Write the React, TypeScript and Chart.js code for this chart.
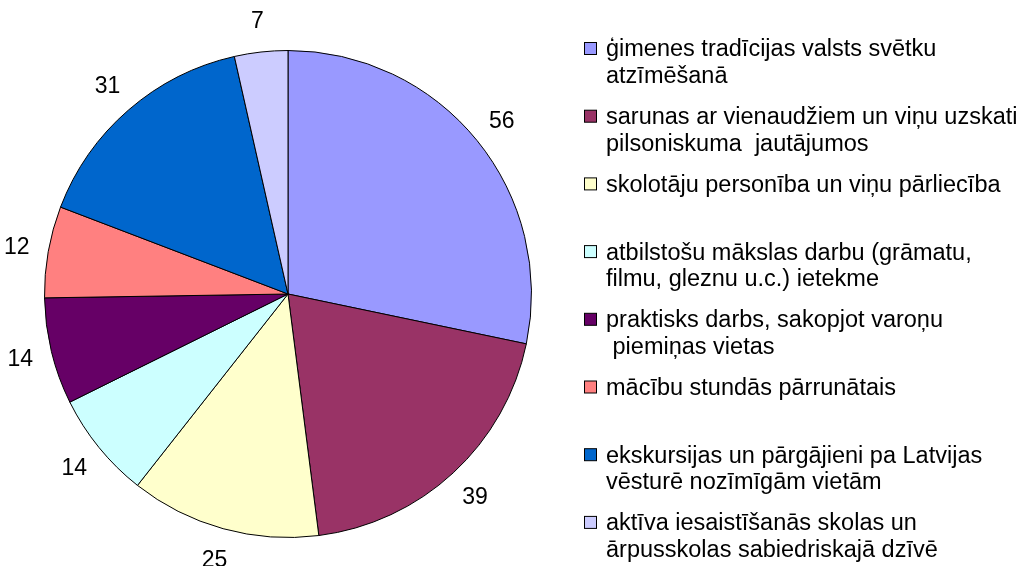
import React, { useEffect, useRef } from "react";
import { Chart, registerables } from "chart.js";

Chart.register(...registerables);

const categories: string[] = [
  "ģimenes tradīcijas valsts svētku\natzīmēšanā",
  "sarunas ar vienaudžiem un viņu uzskati\npilsoniskuma  jautājumos",
  "skolotāju personība un viņu pārliecība",
  "atbilstošu mākslas darbu (grāmatu,\nfilmu, gleznu u.c.) ietekme",
  "praktisks darbs, sakopjot varoņu\n piemiņas vietas",
  "mācību stundās pārrunātais",
  "ekskursijas un pārgājieni pa Latvijas\nvēsturē nozīmīgām vietām",
  "aktīva iesaistīšanās skolas un\nārpusskolas sabiedriskajā dzīvē",
];
const values: number[] = [56, 39, 25, 14, 14, 12, 31, 7];
const colors: string[] = [
  "#9999FF",
  "#993366",
  "#FFFFCC",
  "#CCFFFF",
  "#660066",
  "#FF8080",
  "#0066CC",
  "#CCCCFF",
];

const FONT = '"Liberation Sans", Arial, sans-serif';

const valueLabels = {
  id: "valueLabels",
  afterDatasetsDraw(chart: any) {
    const ctx = chart.ctx;
    const meta = chart.getDatasetMeta(0);
    ctx.save();
    ctx.font = `23px ${FONT}`;
    ctx.fillStyle = "#000";
    ctx.textAlign = "center";
    ctx.textBaseline = "middle";
    meta.data.forEach((arc: any, i: number) => {
      const p = arc.getProps(["x", "y", "startAngle", "endAngle", "outerRadius"], true);
      const mid = (p.startAngle + p.endAngle) / 2;
      const r = p.outerRadius + 32;
      ctx.fillText(String(chart.data.datasets[0].data[i]), p.x + Math.cos(mid) * r, p.y + Math.sin(mid) * r + 1);
    });
    ctx.restore();
  },
};

const sideLegend = {
  id: "sideLegend",
  afterDraw(chart: any) {
    const ctx = chart.ctx;
    ctx.save();
    ctx.font = `23.5px ${FONT}`;
    ctx.textAlign = "left";
    ctx.textBaseline = "middle";
    const labels: string[] = chart.data.labels;
    const bg: string[] = chart.data.datasets[0].backgroundColor;
    labels.forEach((lab, i) => {
      const y0 = 49 + i * 67.7;
      ctx.fillStyle = bg[i];
      ctx.fillRect(584.5, y0 - 6.5, 12, 12);
      ctx.strokeStyle = "#000";
      ctx.lineWidth = 1;
      ctx.strokeRect(584.5, y0 - 6.5, 12, 12);
      ctx.fillStyle = "#000";
      lab.split("\n").forEach((line, j) => {
        ctx.fillText(line, 606, y0 + 1 + j * 26.5);
      });
    });
    ctx.restore();
  },
};

export default function App() {
  const ref = useRef<HTMLCanvasElement | null>(null);
  useEffect(() => {
    if (!ref.current) return;
    const chart = new Chart(ref.current, {
      type: "pie",
      data: {
        labels: categories,
        datasets: [
          {
            data: values,
            backgroundColor: colors,
            borderColor: "#000",
            borderWidth: 1,
          },
        ],
      },
      options: {
        animation: false,
        responsive: false,
        maintainAspectRatio: false,
        layout: { padding: { left: 44, right: 486, top: 50, bottom: 28 } },
        plugins: {
          legend: { display: false },
          tooltip: { enabled: false },
          title: { display: false },
        },
      },
      plugins: [valueLabels, sideLegend],
    });
    return () => chart.destroy();
  }, []);
  return (
    <div style={{ position: "absolute", left: 0, top: 0, width: 1018, height: 566, background: "#fff" }}>
      <canvas ref={ref} width={1018} height={566} style={{ width: 1018, height: 566, display: "block" }} />
    </div>
  );
}
